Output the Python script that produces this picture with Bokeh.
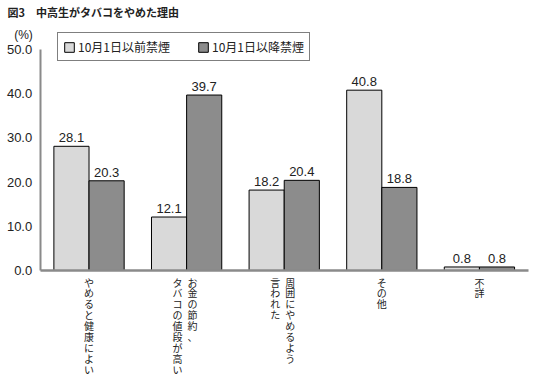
from bokeh.plotting import figure
from bokeh.models import ColumnDataSource, Range1d, Label, FixedTicker, LinearAxis
from bokeh.transform import dodge
from bokeh.core.properties import value
from bokeh.embed import file_html
from bokeh.resources import INLINE

# ---- data ----
title_text = "図3　中高生がタバコをやめた理由"
unit_text = "(%)"
label_right = ["やめると健康によい", "お金の節約、", "周囲にやめるよう", "その他", "不詳"]
label_left = ["", "タバコの値段が高い", "言われた", "", ""]
series_names = ["10月1日以前禁煙", "10月1日以降禁煙"]
before = [28.1, 12.1, 18.2, 40.8, 0.8]
after = [20.3, 39.7, 20.4, 18.8, 0.8]
y_ticks = [0, 10, 20, 30, 40, 50]

JP = "Noto Sans CJK JP"
NUM = "Liberation Sans"
LIGHT = "#d9d9d9"
DARK = "#8c8c8c"
AXIS = "#8a8a8a"
TXT = "#222222"

W, H = 537, 379
n = len(before)
p = figure(width=W, height=H, x_range=Range1d(-0.907, 4.595),
           y_range=Range1d(-24.66, 61.09), output_backend="svg", toolbar_location=None,
           x_axis_location=None, y_axis_location=None, title=None,
           min_border_left=0, min_border_right=0, min_border_top=0, min_border_bottom=0)
p.outline_line_color = None
p.xgrid.visible = False
p.ygrid.visible = False

src = ColumnDataSource(dict(
    x=list(range(n)), before=before, after=after,
    before_txt=["%.1f" % v for v in before], after_txt=["%.1f" % v for v in after],
    right_txt=["\n".join(list(s)) for s in label_right],
    left_txt=["\n".join(list(s)) for s in label_left],
    right_off=[6 if l else 0 for l in label_left],
    left_off=[-9 for _ in label_left],
    zero=[0] * n,
))

bw = 0.36
p.vbar(x=dodge("x", -bw / 2), top="before", width=bw, source=src,
       fill_color=LIGHT, line_color="black", line_width=1, legend_label=series_names[0])
p.vbar(x=dodge("x", bw / 2), top="after", width=bw, source=src,
       fill_color=DARK, line_color="black", line_width=1, legend_label=series_names[1])

for col, off in (("before", -bw / 2), ("after", bw / 2)):
    p.text(x=dodge("x", off), y=col, text=col + "_txt", source=src,
           text_align="center", text_baseline="bottom", y_offset=-4,
           text_font=value(NUM), text_font_size="13px", text_color=TXT)

# vertical category labels
for txt, off in (("right_txt", "right_off"), ("left_txt", "left_off")):
    p.text(x="x", y="zero", text=txt, x_offset=off, y_offset=4, source=src,
           text_align="center", text_baseline="top", text_line_height=0.73,
           text_font=value(JP), text_font_size="10px", text_color=TXT)

# y axis, fixed at the left edge of the first category
yax = LinearAxis(fixed_location=-0.5, ticker=FixedTicker(ticks=y_ticks), bounds=(0, 50))
yax.major_label_overrides = {t: "%.1f" % t for t in y_ticks}
yax.major_tick_line_color = None
yax.minor_tick_line_color = None
yax.major_tick_out = 0
yax.major_tick_in = 0
yax.major_label_standoff = 8
yax.axis_line_color = AXIS
yax.axis_line_width = 2
yax.major_label_text_font = NUM
yax.major_label_text_font_size = "13px"
yax.major_label_text_color = TXT
p.add_layout(yax, "left")

# x axis line only
xax = LinearAxis(fixed_location=0, ticker=FixedTicker(ticks=[]), bounds=(-0.5, 4.5))
xax.major_tick_line_color = None
xax.minor_tick_line_color = None
xax.major_label_text_font_size = "0px"
xax.axis_line_color = AXIS
xax.axis_line_width = 2.5
p.add_layout(xax, "below")

p.add_layout(Label(x=7, y=H - 11, x_units="screen", y_units="screen", text=title_text,
                   text_font=JP, text_font_size="11px", text_font_style="bold",
                   text_baseline="middle", text_color=TXT))
p.add_layout(Label(x=23, y=H - 34, x_units="screen", y_units="screen", text=unit_text,
                   text_font=NUM, text_font_size="12px", text_align="center",
                   text_baseline="middle", text_color=TXT))

lg = p.legend[0]
lg.orientation = "horizontal"
lg.location = (57, H - 61)
lg.glyph_width = 12
lg.glyph_height = 12
lg.label_height = 12
lg.label_standoff = 3
lg.spacing = 27
lg.padding = 5
lg.margin = 0
lg.label_text_font = JP
lg.label_text_font_size = "12px"
lg.label_text_color = TXT
lg.border_line_color = "black"
lg.border_line_width = 1
lg.background_fill_alpha = 1

open("out.html", "w").write(file_html(p, INLINE))
